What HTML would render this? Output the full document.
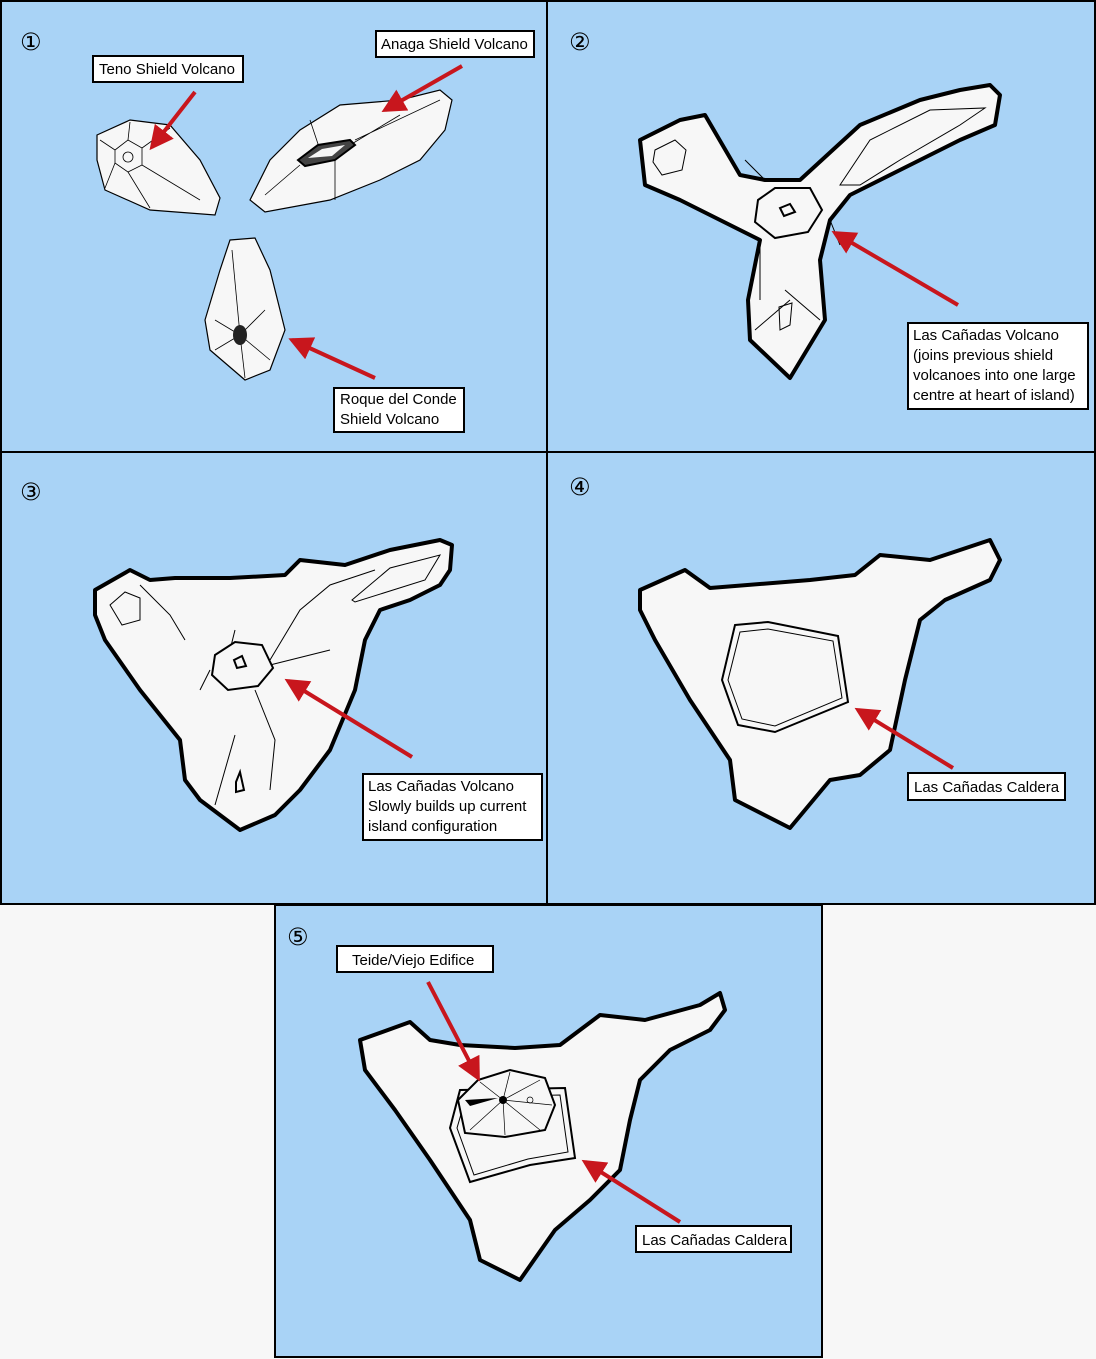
<!DOCTYPE html>
<html><head><meta charset="utf-8"><style>
html,body{margin:0;padding:0;background:#f7f7f7;}
svg{display:block;font-family:"Liberation Sans","DejaVu Sans",sans-serif;}
</style></head><body>
<svg width="1096" height="1359" viewBox="0 0 1096 1359" xmlns="http://www.w3.org/2000/svg">
<defs>
<marker id="ah" markerWidth="6" markerHeight="6" refX="5" refY="3" orient="auto" markerUnits="strokeWidth">
<path d="M0,0 L6,3 L0,6 z" fill="#c8161d"/></marker>
</defs>
<rect x="0" y="0" width="1096" height="1359" fill="#f7f7f7"/>
<g fill="#a9d3f6" stroke="#000" stroke-width="2">
<rect x="1" y="1" width="546" height="451"/>
<rect x="547" y="1" width="548" height="451"/>
<rect x="1" y="452" width="546" height="452"/>
<rect x="547" y="452" width="548" height="452"/>
<rect x="275" y="905" width="547" height="452"/>
</g>
<g font-size="24" fill="#000">
<text x="20" y="50">①</text><text x="569" y="50">②</text>
<text x="20" y="500">③</text><text x="569" y="495">④</text>
<text x="287" y="945">⑤</text>
</g>
<!-- Panel 1 -->
<g fill="#f7f7f7" stroke="#000" stroke-width="1.2">
<polygon points="97,135 130,120 170,125 200,160 220,198 215,215 150,210 105,190 97,160"/>
<polygon points="250,200 270,160 300,130 340,105 400,100 440,90 452,100 445,130 420,160 380,180 330,200 265,212"/>
<polygon points="230,240 255,238 270,270 285,330 270,370 245,380 210,350 205,320 220,270"/>
</g>
<g fill="none" stroke="#000" stroke-width="0.8">
<polygon points="115,150 128,140 142,148 142,165 128,172 115,163"/>
<circle cx="128" cy="157" r="5"/>
<path d="M128,140 L130,122 M142,148 L170,128 M142,165 L200,200 M115,163 L105,188 M115,150 L100,140 M128,172 L150,208"/>
<path d="M240,335 L232,250 M240,335 L215,320 M240,335 L265,310 M240,335 L270,360 M240,335 L245,378 M240,335 L215,350"/>
<path d="M320,150 L310,120 M350,145 L400,115 M300,165 L265,195 M335,160 L335,200 M355,140 L440,100"/>
</g>
<polygon points="298,160 318,145 350,140 355,145 335,160 305,166" fill="#444" stroke="#000" stroke-width="2"/>
<polygon points="308,158 322,149 345,145 332,156" fill="#f7f7f7"/>
<ellipse cx="240" cy="335" rx="7" ry="10" fill="#222"/>
<!-- Panel 2 -->
<g fill="#f7f7f7" stroke="#000" stroke-width="4" stroke-linejoin="round">
<polygon points="640,140 680,120 705,115 740,175 765,180 800,180 860,125 920,100 960,90 990,85 1000,95 995,125 960,140 900,170 850,195 830,220 820,260 825,320 790,378 750,340 748,300 760,240 740,230 680,200 645,185"/>
</g>
<g fill="none" stroke="#000" stroke-width="1">
<polygon points="655,150 675,140 686,150 682,170 662,175 653,162"/>
<polygon points="840,185 870,140 930,110 985,108 960,125 900,160 860,185"/>
<path d="M765,180 L745,160 M800,180 L820,160 M830,220 L840,245 M760,240 L760,300 M755,330 L790,300 M785,290 L820,320"/>
<polygon points="779,307 792,303 790,325 780,330" />
</g>
<polygon points="758,200 775,188 810,188 822,210 808,232 775,238 755,222" fill="#f7f7f7" stroke="#000" stroke-width="2"/>
<polygon points="780,208 790,204 795,212 784,216" fill="none" stroke="#000" stroke-width="2"/>
<!-- Panel 3 -->
<g fill="#f7f7f7" stroke="#000" stroke-width="4" stroke-linejoin="round">
<polygon points="95,590 130,570 150,580 175,578 230,578 285,575 300,560 345,565 390,550 440,540 452,545 450,570 440,585 410,600 380,610 365,640 355,690 330,750 300,790 275,815 240,830 200,800 185,780 180,740 140,690 105,640 95,615"/>
</g>
<g fill="none" stroke="#000" stroke-width="1">
<polygon points="110,605 125,592 140,598 140,620 122,625"/>
<path d="M140,585 L170,615 L185,640 M230,650 L235,630 M270,660 L300,610 L330,585 L375,570 M270,665 L330,650 M210,670 L200,690 M255,690 L275,740 L270,790 M235,735 L215,805"/>
<polygon points="352,600 390,568 440,555 425,580 355,602"/>
</g>
<polygon points="215,655 235,642 262,645 273,668 258,686 228,690 212,675" fill="#f7f7f7" stroke="#000" stroke-width="2"/>
<polygon points="234,660 242,656 246,666 237,668" fill="none" stroke="#000" stroke-width="2"/>
<polygon points="236,782 240,772 244,790 236,792" fill="none" stroke="#000" stroke-width="2"/>
<!-- Panel 4 -->
<g fill="#f7f7f7" stroke="#000" stroke-width="4" stroke-linejoin="round">
<polygon points="640,590 685,570 710,588 810,580 855,575 880,555 930,560 990,540 1000,560 990,580 945,600 920,620 905,680 890,750 860,775 830,780 790,828 735,800 730,760 690,700 655,640 640,610"/>
</g>
<polygon points="735,625 768,622 838,636 848,702 775,732 738,725 722,680" fill="#f7f7f7" stroke="#000" stroke-width="2"/>
<polygon points="740,632 768,629 833,641 842,698 775,726 742,719 728,680" fill="none" stroke="#000" stroke-width="1"/>
<!-- Panel 5 -->
<g fill="#f7f7f7" stroke="#000" stroke-width="4" stroke-linejoin="round">
<polygon points="360,1040 410,1022 430,1040 460,1045 515,1048 560,1045 600,1015 645,1020 700,1005 720,993 725,1010 710,1030 670,1050 640,1080 630,1120 620,1170 590,1200 555,1230 520,1280 480,1260 470,1220 430,1160 395,1110 365,1070"/>
</g>
<polygon points="460,1090 565,1088 575,1158 530,1165 470,1182 450,1128" fill="#f7f7f7" stroke="#000" stroke-width="2"/>
<polygon points="466,1097 560,1095 568,1152 528,1159 474,1175 457,1128" fill="none" stroke="#000" stroke-width="1"/>
<path d="M458,1100 L478,1080 L510,1070 L545,1078 L555,1105 L545,1130 L505,1137 L465,1133 Z" fill="#f7f7f7" stroke="#000" stroke-width="2"/>
<g stroke="#000" stroke-width="0.7" fill="none">
<path d="M503,1100 L480,1082 M503,1100 L510,1072 M503,1100 L540,1080 M503,1100 L552,1105 M503,1100 L540,1130 M503,1100 L505,1135 M503,1100 L470,1130"/>
<circle cx="530" cy="1100" r="3"/>
</g>
<circle cx="503" cy="1100" r="4" fill="#000"/>
<path d="M465,1100 L498,1098 L470,1106 Z" fill="#000"/>
<!-- Arrows -->
<g stroke="#c8161d" stroke-width="4" fill="none" marker-end="url(#ah)">
<line x1="195" y1="92" x2="152" y2="147"/>
<line x1="462" y1="66" x2="385" y2="110"/>
<line x1="375" y1="378" x2="292" y2="340"/>
<line x1="958" y1="305" x2="835" y2="233"/>
<line x1="412" y1="757" x2="288" y2="681"/>
<line x1="953" y1="768" x2="858" y2="710"/>
<line x1="428" y1="982" x2="478" y2="1078"/>
<line x1="680" y1="1222" x2="585" y2="1162"/>
</g>
<!-- Labels -->
<g fill="#fff" stroke="#000" stroke-width="2">
<rect x="93" y="56" width="150" height="26"/>
<rect x="376" y="31" width="158" height="26"/>
<rect x="334" y="388" width="130" height="44"/>
<rect x="908" y="323" width="180" height="86"/>
<rect x="363" y="774" width="179" height="66"/>
<rect x="908" y="773" width="157" height="27"/>
<rect x="337" y="946" width="156" height="26"/>
<rect x="636" y="1226" width="155" height="26"/>
</g>
<g font-size="15" fill="#000">
<text x="99" y="74">Teno Shield Volcano</text>
<text x="381" y="49">Anaga Shield Volcano</text>
<text x="340" y="404">Roque del Conde</text>
<text x="340" y="424">Shield Volcano</text>
<text x="913" y="340">Las Cañadas Volcano</text>
<text x="913" y="360">(joins previous shield</text>
<text x="913" y="380">volcanoes into one large</text>
<text x="913" y="400">centre at heart of island)</text>
<text x="368" y="791">Las Cañadas Volcano</text>
<text x="368" y="811">Slowly builds up current</text>
<text x="368" y="831">island configuration</text>
<text x="914" y="792">Las Cañadas Caldera</text>
<text x="352" y="965">Teide/Viejo Edifice</text>
<text x="642" y="1245">Las Cañadas Caldera</text>
</g>
</svg>
</body></html>
